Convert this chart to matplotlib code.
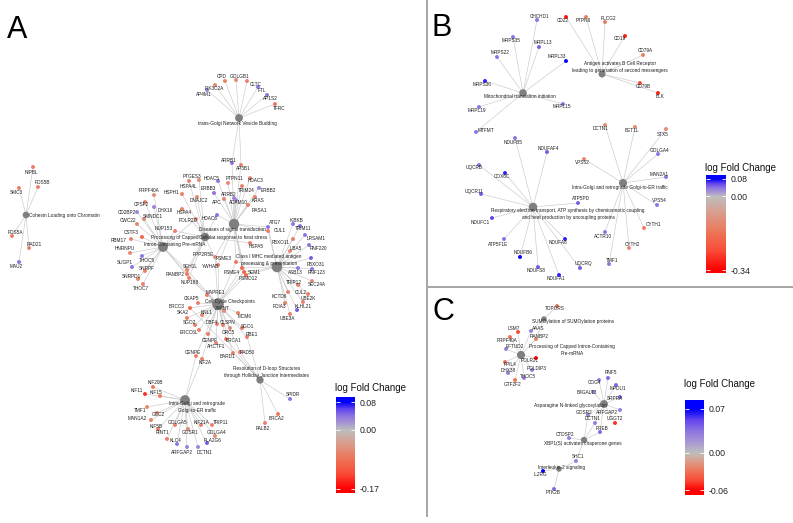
import numpy as np
import matplotlib
matplotlib.use('Agg')
import matplotlib.pyplot as plt
from matplotlib.colors import LinearSegmentedColormap, TwoSlopeNorm
from matplotlib.collections import LineCollection

plt.rcParams['font.family'] = ['Liberation Sans', 'DejaVu Sans']

# ---------------- data: panel A ----------------
a_pathways = ['trans-Golgi Network Vesicle Budding',
              'Diseases of signal transduction',
              'Cellular response to heat stress',
              'Processing of Capped\nIntron-Containing Pre-mRNA',
              'Class I MHC mediated antigen\nprocessing & presentation',
              'Cell Cycle Checkpoints',
              'Resolution of D-loop Structures\nthrough Holliday Junction Intermediates',
              'Intra-Golgi and retrograde\nGolgi-to-ER traffic',
              'Cohesin Loading onto Chromatin']
a_members = [
    ['CPD', 'GOLGB1', 'CLTC', 'PIK3C2A', 'AP4M1', 'FTL', 'AP1S2', 'TFRC', 'ARRB1', 'AP3B1'],
    ['ARRB1', 'AP3B1', 'HDAC5', 'PTPN11', 'HDAC3', 'TRIM24', 'ERBB2', 'ERBB3', 'ARRB2', 'ADAM10',
     'APC', 'KRAS', 'RASA1', 'HDAC6', 'ATG7', 'CUL1', 'PSME3', 'PSME4', 'SEM1', 'PSMD12',
     'PPP2R5E', 'YWHAB'],
    ['PTGES3', 'HSPA4L', 'HSPH1', 'DNAJC2', 'HSPA4', 'HDAC6', 'NUP153', 'RANBP2', 'NUP188',
     'SEH1L', 'HSPA5', 'YWHAB', 'POLR2D'],
    ['PRPF40A', 'CPSF2', 'DHX16', 'CD2BP2', 'SMNDC1', 'CWC22', 'NUP153', 'CSTF3', 'RBM17',
     'HNRNPU', 'SUGP1', 'THOC5', 'SNRPF', 'SNRPD1', 'THOC7', 'RANBP2', 'NUP188', 'SEH1L', 'POLR2D'],
    ['CUL1', 'FBXO11', 'IKBKB', 'TRIM11', 'LRSAM1', 'UBA5', 'RNF220', 'FBXO31', 'ASB13', 'RNF123',
     'TRIP12', 'SEC24A', 'CUL2', 'KCTD6', 'UBE2K', 'PDIA3', 'KLHL21', 'UBE3A', 'PSME3', 'PSME4',
     'SEM1', 'PSMD12', 'ATG7'],
    ['MAPRE1', 'CKAP5', 'BRCC3', 'SKA2', 'KNL1', 'SGO2', 'DBF4', 'ERCC6L', 'CLSPN', 'ZWINT',
     'MCM6', 'SGO1', 'ORC5', 'CENPF', 'BRCA1', 'RBE1', 'AHCTF1', 'CENPE', 'RAD50', 'BARD1',
     'KIF2A', 'PSME3', 'PSME4', 'SEM1', 'PSMD12', 'PPP2R5E', 'YWHAB', 'RANBP2', 'NUP188', 'SEH1L'],
    ['BRCA1', 'BARD1', 'RAD50', 'RBE1', 'BRCC3', 'SPIDR', 'BRCA2', 'PALB2'],
    ['KIF20B', 'KIF11', 'KIF15', 'TMF1', 'GCC2', 'MAN1A2', 'GOLGA5', 'KIF21A', 'TRIP11', 'KIF5B',
     'RINT1', 'GOSR1', 'GOLGA4', 'PLA2G6', 'KLC4', 'ARFGAP2', 'DCTN1', 'KIF2A', 'CENPE'],
    ['NIPBL', 'PDS5B', 'SMC3', 'PDS5A', 'RAD21', 'MAU2'],
]
a_lfc = {
    'CPD': -0.07, 'GOLGB1': -0.06, 'CLTC': -0.07, 'PIK3C2A': -0.06, 'AP4M1': 0.03, 'FTL': 0.04,
    'AP1S2': 0.04, 'TFRC': -0.08, 'ARRB1': 0.04, 'AP3B1': -0.07,
    'PTGES3': -0.07, 'HSPA4L': -0.06, 'HDAC5': 0.04, 'PTPN11': -0.06, 'HDAC3': -0.06,
    'TRIM24': -0.07, 'ERBB2': 0.03, 'HSPH1': -0.07, 'PRPF40A': -0.06, 'ERBB3': 0.04,
    'ARRB2': 0.03, 'ADAM10': 0.03, 'APC': -0.07, 'KRAS': -0.07, 'RASA1': -0.07, 'DNAJC2': -0.06,
    'HSPA4': -0.07, 'POLR2D': -0.06, 'HDAC6': 0.04,
    'CPSF2': -0.07, 'DHX16': 0.03, 'CD2BP2': 0.03, 'SMNDC1': -0.06, 'CWC22': -0.06,
    'NUP153': -0.07, 'CSTF3': -0.10, 'RBM17': -0.07, 'HNRNPU': -0.06, 'SUGP1': 0.04,
    'THOC5': 0.04, 'SNRPF': -0.07, 'SNRPD1': -0.07, 'THOC7': -0.07, 'RANBP2': -0.08,
    'NUP188': -0.07, 'SEH1L': -0.07,
    'PPP2R5E': -0.06, 'PSME3': -0.08, 'YWHAB': -0.07, 'PSME4': -0.10, 'SEM1': -0.10,
    'PSMD12': -0.10, 'HSPA5': -0.07, 'ATG7': 0.04, 'CUL1': -0.07, 'FBXO11': -0.07,
    'IKBKB': 0.04, 'TRIM11': 0.04, 'LRSAM1': 0.04, 'UBA5': -0.06, 'RNF220': 0.04,
    'FBXO31': 0.05, 'ASB13': 0.04, 'RNF123': 0.04, 'TRIP12': -0.07, 'SEC24A': -0.06,
    'CUL2': -0.07, 'KCTD6': -0.07, 'UBE2K': -0.07, 'PDIA3': -0.07, 'KLHL21': 0.05,
    'UBE3A': -0.07,
    'MAPRE1': -0.07, 'CKAP5': -0.07, 'BRCC3': -0.10, 'SKA2': -0.07, 'KNL1': -0.07,
    'SGO2': -0.07, 'DBF4': -0.07, 'ERCC6L': -0.07, 'CLSPN': -0.07, 'ZWINT': -0.06,
    'MCM6': -0.07, 'SGO1': -0.07, 'ORC5': -0.06, 'CENPF': -0.07, 'BRCA1': -0.07,
    'RBE1': -0.07, 'AHCTF1': -0.06, 'CENPE': -0.07, 'RAD50': -0.07, 'BARD1': -0.07,
    'KIF2A': -0.07, 'SPIDR': 0.04, 'BRCA2': -0.08, 'PALB2': -0.07,
    'KIF20B': -0.08, 'KIF11': -0.14, 'KIF15': -0.08, 'TMF1': -0.06, 'GCC2': -0.06,
    'MAN1A2': -0.07, 'GOLGA5': -0.07, 'KIF21A': -0.07, 'TRIP11': -0.07, 'KIF5B': -0.07,
    'RINT1': -0.07, 'GOSR1': -0.06, 'GOLGA4': -0.06, 'PLA2G6': 0.05, 'KLC4': 0.04,
    'ARFGAP2': 0.03, 'DCTN1': 0.03,
    'NIPBL': -0.07, 'PDS5B': -0.07, 'SMC3': -0.07, 'PDS5A': -0.07, 'RAD21': -0.07, 'MAU2': 0.04,
}
a_range = (-0.17, 0.08)

# ---------------- data: panel B ----------------
b_pathways = ['Mitochondrial translation initiation',
              'Antigen activates B Cell Receptor\nleading to generation of second messengers',
              'Respiratory electron transport, ATP synthesis by chemiosmotic coupling\nand heat production by uncoupling proteins',
              'Intra-Golgi and retrograde Golgi-to-ER traffic']
b_members = [
    ['CHCHD1', 'MRPS35', 'MRPL13', 'MRPS22', 'MRPL33', 'MRPS36', 'MRPL19', 'MRPL15', 'MTFMT'],
    ['CD22', 'PTPN6', 'PLCG2', 'CD19', 'CD79A', 'CD79B', 'BLK'],
    ['NDUFB5', 'NDUFAF4', 'UQCRB', 'COX6C', 'UQCR11', 'ATP5PD', 'NDUFC1', 'ATP5F1E', 'NDUFB6',
     'NDUFA8', 'UQCRQ', 'NDUFS8', 'NDUFA1'],
    ['DCTN1', 'BET1L', 'STX5', 'GOLGA4', 'VPS52', 'MAN2A1', 'VPS54', 'CYTH1', 'ACTR10', 'CYTH2', 'TMF1'],
]
b_lfc = {
    'CHCHD1': 0.04, 'MRPS35': 0.04, 'MRPL13': 0.05, 'MRPS22': 0.04, 'MRPL33': 0.08,
    'MRPS36': 0.07, 'MRPL19': 0.04, 'MRPL15': 0.04, 'MTFMT': 0.04,
    'CD22': -0.32, 'PTPN6': -0.15, 'PLCG2': -0.15, 'CD19': -0.30, 'CD79A': -0.15,
    'CD79B': -0.25, 'BLK': -0.30,
    'NDUFB5': 0.04, 'NDUFAF4': 0.05, 'UQCRB': 0.04, 'COX6C': 0.07, 'UQCR11': 0.05,
    'ATP5PD': 0.05, 'NDUFC1': 0.06, 'ATP5F1E': 0.04, 'NDUFB6': 0.08, 'NDUFA8': 0.07,
    'UQCRQ': 0.05, 'NDUFS8': 0.05, 'NDUFA1': 0.07,
    'DCTN1': -0.12, 'BET1L': -0.12, 'STX5': -0.12, 'GOLGA4': 0.04, 'VPS52': -0.12,
    'MAN2A1': 0.04, 'VPS54': 0.04, 'CYTH1': -0.15, 'ACTR10': 0.04, 'CYTH2': -0.12, 'TMF1': 0.04,
}
b_range = (-0.34, 0.08)

# ---------------- data: panel C ----------------
c_pathways = ['SUMOylation of SUMOylation proteins',
              'Processing of Capped Intron-Containing\nPre-mRNA',
              'Asparagine N-linked glycosylation',
              'XBP1(S) activates chaperone genes',
              'Interleukin-2 signaling']
c_members = [
    ['TOPORS', 'AAAS', 'RANBP2'],
    ['LSM7', 'AAAS', 'RANBP2', 'PRPF40A', 'EFTUD2', 'POLR2L', 'PPIL4', 'POLDIP3', 'DHX38',
     'THOC5', 'GTF2F2'],
    ['RNF5', 'COG4', 'MPDU1', 'B4GALT3', 'SRPRA', 'GOSR2', 'ARFGAP2', 'DCTN1', 'UGGT2', 'PREB'],
    ['GOSR2', 'DCTN1', 'PREB', 'CTDSP2', 'SHC1'],
    ['SHC1', 'IL2RG', 'PTK2B'],
]
c_lfc = {
    'TOPORS': -0.03, 'LSM7': -0.045, 'AAAS': 0.03, 'RANBP2': -0.025, 'PRPF40A': -0.03,
    'EFTUD2': 0.03, 'POLR2L': -0.06, 'PPIL4': -0.03, 'POLDIP3': 0.03, 'DHX38': 0.03,
    'THOC5': 0.03, 'GTF2F2': -0.03,
    'RNF5': 0.04, 'COG4': 0.03, 'MPDU1': 0.04, 'B4GALT3': 0.03, 'SRPRA': 0.04, 'GOSR2': 0.03,
    'ARFGAP2': 0.03, 'DCTN1': 0.03, 'UGGT2': -0.05, 'PREB': 0.04, 'CTDSP2': 0.03,
    'SHC1': 0.03, 'IL2RG': 0.07, 'PTK2B': 0.04,
}
c_range = (-0.06, 0.07)

# ---------------- layout (pixel positions: node x, y, label x, y) ----------------
a_hub_xy = [(239, 118), (234, 224), (205, 237), (163, 247), (277, 267),
            (218, 304), (260, 380), (185, 400), (26, 215)]
a_hub_lab = [(237, 123), (232, 229), (233, 238), (175, 241), (269, 260),
             (230, 301), (267, 372), (197, 407), (64, 215)]
a_pos = {
    'CPD': (225, 81, 222, 77), 'GOLGB1': (236, 80, 240, 76), 'CLTC': (247, 81, 256, 84),
    'PIK3C2A': (215, 85, 214, 88), 'AP4M1': (207, 90, 204, 95), 'FTL': (258, 87, 262, 91),
    'AP1S2': (267, 95, 270, 99), 'TFRC': (275, 104, 279, 109), 'ARRB1': (232, 163, 229, 160),
    'AP3B1': (241, 165, 243, 169),
    'PTGES3': (189, 181, 192, 176), 'HSPA4L': (199, 180, 188, 186), 'HDAC5': (218, 181, 212, 178),
    'PTPN11': (228, 183, 234, 179), 'HDAC3': (250, 178, 256, 181), 'TRIM24': (242, 186, 246, 190),
    'ERBB2': (259, 188, 268, 191), 'HSPH1': (182, 194, 172, 192), 'PRPF40A': (154, 195, 149, 191),
    'ERBB3': (214, 193, 208, 188), 'ARRB2': (234, 198, 229, 195), 'ADAM10': (236, 200, 238, 203),
    'APC': (224, 199, 217, 203), 'KRAS': (255, 197, 258, 201), 'RASA1': (248, 205, 259, 210),
    'DNAJC2': (197, 197, 199, 201), 'HSPA4': (182, 209, 184, 213), 'POLR2D': (196, 219, 188, 221),
    'HDAC6': (217, 215, 210, 219),
    'CPSF2': (145, 202, 141, 204), 'DHX16': (154, 207, 165, 210), 'CD2BP2': (137, 212, 127, 212),
    'SMNDC1': (144, 219, 153, 217), 'CWC22': (137, 224, 128, 221), 'NUP153': (175, 231, 164, 229),
    'CSTF3': (142, 237, 131, 232), 'RBM17': (131, 239, 119, 240), 'HNRNPU': (130, 253, 125, 249),
    'SUGP1': (132, 267, 125, 263), 'THOC5': (142, 256, 147, 260), 'SNRPF': (145, 271, 147, 268),
    'SNRPD1': (138, 279, 131, 276), 'THOC7': (143, 284, 141, 288), 'RANBP2': (187, 274, 175, 275),
    'NUP188': (189, 278, 190, 282), 'SEH1L': (187, 270, 190, 267),
    'PPP2R5E': (215, 257, 203, 254), 'PSME3': (236, 262, 224, 258), 'YWHAB': (218, 265, 210, 267),
    'PSME4': (242, 268, 232, 272), 'SEM1': (244, 272, 254, 272), 'PSMD12': (246, 275, 248, 279),
    'HSPA5': (250, 243, 256, 247), 'ATG7': (268, 227, 275, 223), 'CUL1': (268, 231, 280, 231),
    'FBXO11': (293, 239, 281, 242), 'IKBKB': (293, 224, 296, 221), 'TRIM11': (300, 226, 303, 229),
    'LRSAM1': (305, 235, 316, 238), 'UBA5': (290, 251, 296, 249), 'RNF220': (309, 245, 318, 249),
    'FBXO31': (311, 258, 316, 265), 'ASB13': (298, 268, 295, 273), 'RNF123': (312, 269, 316, 273),
    'TRIP12': (298, 285, 294, 282), 'SEC24A': (312, 281, 317, 285), 'CUL2': (308, 294, 301, 292),
    'KCTD6': (288, 292, 279, 296), 'UBE2K': (303, 302, 308, 299), 'PDIA3': (285, 303, 279, 307),
    'KLHL21': (297, 310, 303, 307), 'UBE3A': (290, 314, 287, 318),
    'MAPRE1': (207, 295, 215, 292), 'CKAP5': (198, 303, 192, 299), 'BRCC3': (190, 308, 177, 307),
    'SKA2': (187, 318, 183, 313), 'KNL1': (202, 315, 207, 313), 'SGO2': (195, 325, 189, 322),
    'DBF4': (217, 324, 212, 322), 'ERCC6L': (199, 330, 189, 333), 'CLSPN': (223, 325, 228, 323),
    'ZWINT': (224, 311, 222, 309), 'MCM6': (238, 313, 245, 317), 'SGO1': (242, 328, 247, 326),
    'ORC5': (230, 328, 228, 333), 'CENPF': (208, 334, 210, 340), 'BRCA1': (226, 339, 233, 340),
    'RBE1': (247, 337, 252, 334), 'AHCTF1': (216, 343, 216, 347), 'CENPE': (196, 356, 193, 352),
    'RAD50': (240, 352, 247, 353), 'BARD1': (233, 353, 227, 357), 'KIF2A': (202, 359, 205, 363),
    'SPIDR': (290, 399, 293, 395), 'BRCA2': (278, 414, 276, 418), 'PALB2': (265, 423, 263, 428),
    'KIF20B': (153, 387, 155, 383), 'KIF11': (145, 394, 137, 391), 'KIF15': (160, 396, 156, 393),
    'TMF1': (147, 407, 140, 411), 'GCC2': (157, 413, 158, 415), 'MAN1A2': (151, 420, 137, 419),
    'GOLGA5': (175, 425, 178, 422), 'KIF21A': (201, 425, 201, 422), 'TRIP11': (212, 425, 221, 422),
    'KIF5B': (158, 429, 156, 426), 'RINT1': (167, 439, 163, 433), 'GOSR1': (188, 429, 190, 433),
    'GOLGA4': (215, 436, 217, 432), 'PLA2G6': (207, 443, 213, 441), 'KLC4': (177, 444, 175, 441),
    'ARFGAP2': (187, 447, 182, 452), 'DCTN1': (198, 447, 205, 452),
    'NIPBL': (33, 167, 31, 172), 'PDS5B': (38, 187, 42, 183), 'SMC3': (19, 188, 16, 192),
    'PDS5A': (12, 236, 15, 233), 'RAD21': (29, 248, 34, 245), 'MAU2': (19, 262, 16, 267),
}

b_hub_xy = [(523, 93), (602, 74), (533, 207), (623, 183)]
b_hub_lab = [(520, 97), (620, 67), (568, 214), (620, 188)]
b_pos = {
    'CHCHD1': (537, 20, 540, 16), 'MRPS35': (513, 37, 511, 41), 'MRPL13': (539, 47, 543, 42),
    'MRPS22': (497, 57, 500, 52), 'MRPL33': (566, 61, 557, 57), 'MRPS36': (485, 81, 482, 85),
    'MRPL19': (479, 107, 477, 111), 'MRPL15': (563, 104, 562, 107), 'MTFMT': (476, 132, 486, 131),
    'CD22': (566, 17, 563, 21), 'PTPN6': (586, 17, 583, 21), 'PLCG2': (605, 22, 608, 18),
    'CD19': (625, 36, 620, 39), 'CD79A': (643, 55, 645, 51), 'CD79B': (640, 83, 643, 87),
    'BLK': (658, 93, 660, 96),
    'NDUFB5': (515, 138, 513, 142), 'NDUFAF4': (547, 152, 548, 148), 'UQCRB': (479, 165, 474, 168),
    'COX6C': (505, 173, 502, 177), 'UQCR11': (481, 194, 474, 191), 'ATP5PD': (578, 203, 581, 199),
    'NDUFC1': (492, 218, 480, 223), 'ATP5F1E': (504, 239, 498, 244), 'NDUFB6': (520, 257, 523, 253),
    'NDUFA8': (565, 239, 558, 243), 'UQCRQ': (580, 268, 583, 264), 'NDUFS8': (538, 267, 536, 271),
    'NDUFA1': (559, 275, 556, 278),
    'DCTN1': (605, 125, 601, 129), 'BET1L': (635, 127, 632, 131), 'STX5': (666, 129, 663, 134),
    'GOLGA4': (658, 154, 660, 151), 'VPS52': (584, 159, 582, 163), 'MAN2A1': (666, 177, 659, 174),
    'VPS54': (657, 205, 659, 201), 'CYTH1': (644, 228, 653, 225), 'ACTR10': (605, 232, 603, 237),
    'CYTH2': (629, 248, 632, 244), 'TMF1': (609, 264, 612, 260),
}

c_hub_xy = [(544, 319), (521, 355), (604, 404), (584, 440), (559, 469)]
c_hub_lab = [(573, 321), (572, 350), (570, 405), (583, 444), (562, 467)]
c_pos = {
    'TOPORS': (557, 306, 555, 309), 'LSM7': (518, 332, 514, 328), 'AAAS': (531, 331, 538, 328),
    'RANBP2': (536, 339, 539, 336), 'PRPF40A': (510, 337, 507, 340), 'EFTUD2': (506, 349, 515, 347),
    'POLR2L': (536, 358, 530, 360), 'PPIL4': (505, 362, 510, 364), 'POLDIP3': (532, 370, 537, 368),
    'DHX38': (508, 373, 508, 370), 'THOC5': (524, 378, 528, 376), 'GTF2F2': (515, 380, 513, 384),
    'RNF5': (608, 378, 611, 373), 'COG4': (599, 380, 594, 383), 'MPDU1': (616, 385, 618, 388),
    'B4GALT3': (593, 392, 587, 393), 'SRPRA': (620, 397, 615, 399), 'GOSR2': (588, 415, 584, 412),
    'ARFGAP2': (620, 410, 607, 412), 'DCTN1': (595, 423, 593, 419), 'UGGT2': (615, 423, 615, 419),
    'PREB': (600, 432, 602, 428), 'CTDSP2': (569, 438, 565, 434), 'SHC1': (576, 461, 578, 457),
    'IL2RG': (543, 471, 540, 475), 'PTK2B': (554, 489, 553, 493),
}

# colorbar geometry: left, width, bar top, bar bottom, y of vmax, y of vmin, title y
a_cb = (336, 19, 397, 493, 402, 489, 388)
b_cb = (706, 20, 175, 273, 179, 270, 168)
c_cb = (685, 19, 400, 495, 409, 490, 384)

cmap = LinearSegmentedColormap.from_list('lfc', [
    (0.0, '#FF0000'), (0.125, '#F94A36'), (0.25, '#EE7457'), (0.375, '#DC9A88'),
    (0.5, '#BEBEBE'), (0.625, '#A896D4'), (0.75, '#8E75E2'), (0.875, '#6446EE'),
    (1.0, '#0000FF')])

W, H = 793, 523
fig = plt.figure(figsize=(W / 100, H / 100), dpi=100)
ax = fig.add_axes([0, 0, 1, 1])
ax.set_xlim(0, W)
ax.set_ylim(H, 0)
ax.axis('off')

TXT = '#1e1e1e'
FS = 3.4


def draw_panel(pathways, members, lfc, hub_xy, hub_lab, pos, vrange):
    norm = TwoSlopeNorm(vcenter=0, vmin=vrange[0], vmax=vrange[1])
    segs = []
    for hub, genes in zip(hub_xy, members):
        for g in genes:
            segs.append([hub, pos[g][:2]])
    ax.add_collection(LineCollection(segs, colors='#C9C9C9', linewidths=0.45, zorder=1))

    genes = list(lfc.keys())
    gx = [pos[g][0] for g in genes]
    gy = [pos[g][1] for g in genes]
    ax.scatter(gx, gy, s=8, c=[lfc[g] for g in genes], cmap=cmap, norm=norm,
               linewidths=0, zorder=3)
    for g in genes:
        ax.text(pos[g][2], pos[g][3], g, fontsize=FS, color=TXT, ha='center',
                va='center', zorder=5)

    counts = np.array([len(m) for m in members])
    diam = 2.6 + 1.65 * np.sqrt(counts)
    hx = [h[0] for h in hub_xy]
    hy = [h[1] for h in hub_xy]
    ax.scatter(hx, hy, s=(diam * 0.72) ** 2, color='#7F7F7F', linewidths=0, zorder=4)
    for name, (lx, ly) in zip(pathways, hub_lab):
        ax.text(lx, ly, name, fontsize=FS, color=TXT, ha='center', va='center',
                linespacing=1.5, zorder=6)
    return norm


def draw_colorbar(norm, vrange, geom):
    left, width, top, bottom, y_hi, y_lo, title_y = geom
    vmin, vmax = vrange
    ppu = (y_lo - y_hi) / (vmax - vmin)
    hi = vmax + (y_hi - top) / ppu
    lo = vmin - (bottom - y_lo) / ppu
    cax = fig.add_axes([left / W, 1 - bottom / H, width / W, (bottom - top) / H])
    grad = np.linspace(lo, hi, 300)[:, None]
    cax.imshow(grad, aspect='auto', origin='lower', extent=[0, 1, lo, hi],
               cmap=cmap, norm=norm)
    cax.set_xlim(0, 1)
    cax.set_ylim(lo, hi)
    ticks = [vmin, 0.0, vmax]
    cax.hlines(ticks, 0, 0.2, color='white', lw=0.6)
    cax.hlines(ticks, 0.8, 1, color='white', lw=0.6)
    cax.set_xticks([])
    cax.yaxis.tick_right()
    cax.set_yticks(ticks)
    cax.set_yticklabels(['%.2f' % t for t in ticks])
    cax.tick_params(axis='y', length=0, pad=3, labelsize=6.3, labelcolor='#222222')
    for s in cax.spines.values():
        s.set_visible(False)
    ax.text(left - 1, title_y, 'log Fold Change', fontsize=7, ha='left', va='center',
            color='#111111')


norm_a = draw_panel(a_pathways, a_members, a_lfc, a_hub_xy, a_hub_lab, a_pos, a_range)
norm_b = draw_panel(b_pathways, b_members, b_lfc, b_hub_xy, b_hub_lab, b_pos, b_range)
norm_c = draw_panel(c_pathways, c_members, c_lfc, c_hub_xy, c_hub_lab, c_pos, c_range)
draw_colorbar(norm_a, a_range, a_cb)
draw_colorbar(norm_b, b_range, b_cb)
draw_colorbar(norm_c, c_range, c_cb)

# panel dividers and letters
ax.plot([427, 427], [0, 516], color='#A6A6A6', lw=1.4, zorder=0)
ax.plot([427, W], [287, 287], color='#A6A6A6', lw=1.4, zorder=0)
for letter, lx, ly in [('A', 7, 30), ('B', 432, 28), ('C', 432, 312)]:
    ax.text(lx, ly, letter, fontsize=22, ha='left', va='center', color='black')

fig.savefig('out.png', dpi=100)
